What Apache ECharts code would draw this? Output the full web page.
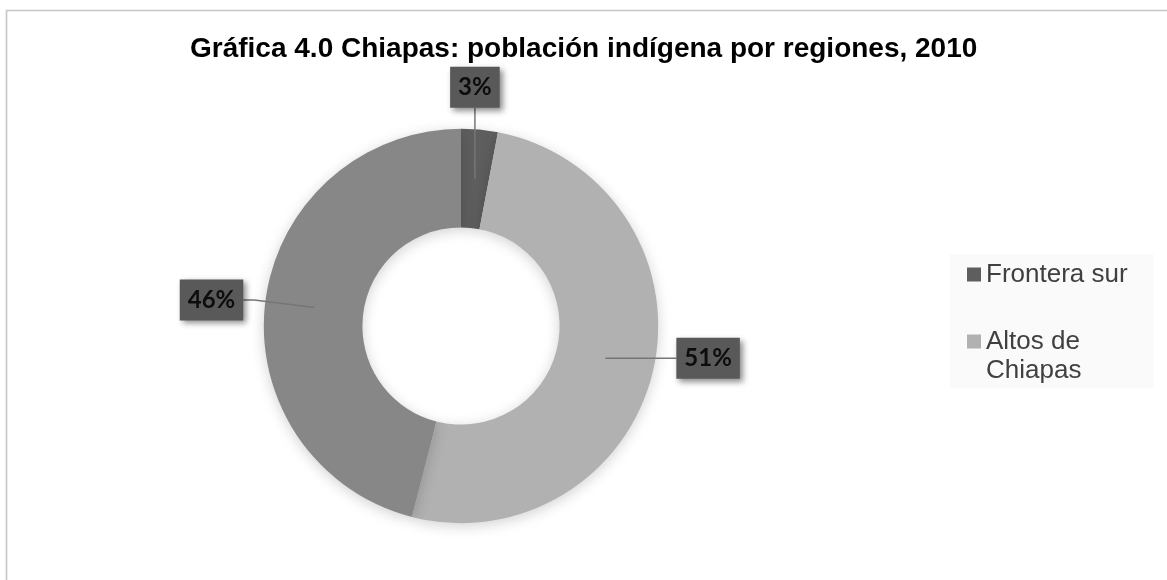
<!DOCTYPE html>
<html>
<head>
<meta charset="utf-8">
<script src="https://cdn.jsdelivr.net/npm/echarts@6/dist/echarts.min.js"></script>
<style>html,body{margin:0;padding:0;background:#fff}#c{width:1167px;height:580px}</style>
</head>
<body>
<div id="c"></div>
<script>
const titleText = 'Gráfica 4.0 Chiapas: población indígena por regiones, 2010';
const categories = ['Frontera sur', 'Altos de Chiapas', 'Otras regiones'];
const legendNames = ['Frontera sur', 'Altos de Chiapas'];
const values = [3, 51, 46];
const colors = ['#5e5e5e', '#b1b1b1', '#878787'];

const innerPct = 34, outerPct = 68, midPct = (innerPct + outerPct) / 2;
const lineLen = 60, lineLen2 = 11;
const chart = echarts.init(document.getElementById('c'));
const seriesData = categories.map((c, i) => ({ name: c, value: values[i] }));

chart.setOption({
  animation: false,
  color: colors,
  graphic: [{
    type: 'rect', silent: true, z: -10,
    shape: { x: 6.5, y: 10.5, width: 1300, height: 700 },
    style: { fill: 'none', stroke: '#c6c6c6', lineWidth: 1.6 }
  }],
  title: {
    text: titleText,
    left: 185, top: 30,
    textStyle: { fontFamily: 'Liberation Sans', fontWeight: 'bold', fontSize: 28, color: '#000' }
  },
  legend: {
    orient: 'vertical',
    data: legendNames,
    left: 950, top: 254,
    padding: [6, 26, 3, 17],
    backgroundColor: '#fafafa',
    itemWidth: 14, itemHeight: 14,
    itemGap: 9,
    icon: 'rect',
    formatter: function (n) { return n.indexOf(' de ') >= 0 ? '\n' + n.replace(' de ', ' de\n') : n; },
    textStyle: { fontFamily: 'Liberation Sans', fontSize: 26, color: '#404040', lineHeight: 29 }
  },
  series: [{
    type: 'pie',
    z: 2,
    center: [461, 326],
    radius: [innerPct + '%', outerPct + '%'],
    startAngle: 90,
    clockwise: true,
    silent: true,
    itemStyle: { shadowBlur: 14, shadowColor: 'rgba(0,0,0,0.18)', shadowOffsetY: 3 },
    label: { show: false },
    labelLine: { show: false },
    data: seriesData
  }, {
    type: 'pie',
    z: 3,
    center: [461, 326],
    radius: [innerPct + '%', midPct + '%'],
    startAngle: 90,
    clockwise: true,
    silent: true,
    itemStyle: { color: 'rgba(0,0,0,0)' },
    label: {
      show: true,
      position: 'outside',
      formatter: '{d}%',
      fontFamily: 'Lato', fontWeight: 'bold', fontSize: 24, color: '#0d0d0d',
      backgroundColor: '#595959',
      padding: [9, 8, 8, 8],
      shadowBlur: 6, shadowOffsetX: 3, shadowOffsetY: 3, shadowColor: 'rgba(0,0,0,0.45)'
    },
    labelLine: { show: true, showAbove: true, length: lineLen, length2: lineLen2, lineStyle: { color: '#767676', width: 1.5 } },
    labelLayout: function (params) {
      const p = params.labelLinePoints;
      if (!p || p.length < 3) return {};
      const s = p[0];
      const dx = p[1][0] - s[0], dy = p[1][1] - s[1];
      const D = lineLen + lineLen2;
      if (Math.abs(dy) > Math.abs(dx)) {
        const sgn = dy < 0 ? -1 : 1;
        const e = [s[0], s[1] + sgn * D];
        return { x: e[0], y: e[1], align: 'center', verticalAlign: sgn < 0 ? 'bottom' : 'top', labelLinePoints: [s, e, e] };
      }
      const side = dx >= 0 ? 1 : -1;
      const y = Math.min(s[1], p[1][1]);
      const m = [s[0] + side * lineLen, y], e = [s[0] + side * D, y];
      return { x: e[0], y: e[1], align: side > 0 ? 'left' : 'right', verticalAlign: 'middle', labelLinePoints: [s, m, e] };
    },
    data: seriesData
  }]
});
</script>
</body>
</html>
